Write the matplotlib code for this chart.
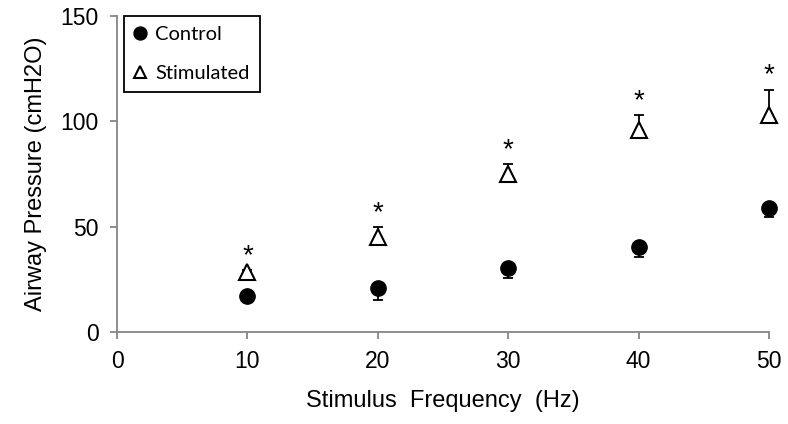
import matplotlib
matplotlib.use("Agg")
import matplotlib.pyplot as plt
import numpy as np

# data
freq = [10, 20, 30, 40, 50]
control = [17.2, 21.0, 30.5, 40.5, 58.7]
control_err = [1.5, 6.0, 4.7, 4.8, 4.0]  # drawn downward only
stim = [28.3, 45.2, 75.0, 95.8, 103.0]
stim_err = [1.0, 4.5, 4.5, 7.0, 12.0]  # drawn upward only
star_labels = ["*", "*", "*", "*", "*"]

plt.rcParams['font.family'] = ['Liberation Sans', 'DejaVu Sans']

fig = plt.figure(figsize=(7.88, 4.24), dpi=100)
ax = fig.add_axes([0.1485, 0.217, 0.8275, 0.7455])

zeros = np.zeros(len(freq))
ax.errorbar(freq, control, yerr=[control_err, zeros], fmt='none', ecolor='black',
            elinewidth=1.3, capsize=3.6, capthick=1.3, zorder=2, clip_on=False)
ax.errorbar(freq, stim, yerr=[zeros, stim_err], fmt='none', ecolor='black',
            elinewidth=1.3, capsize=3.6, capthick=1.3, zorder=2, clip_on=False)

ax.plot(freq, control, linestyle='none', marker='o', markersize=11,
        color='black', label='Control', zorder=3, clip_on=False)
ax.plot(freq, stim, linestyle='none', marker='^', markersize=11,
        markerfacecolor='white', markeredgecolor='black', markeredgewidth=1.5,
        label='Stimulated', zorder=3, clip_on=False)

# significance stars above the stimulated error bars
for x, s, e, lab in zip(freq, stim, stim_err, star_labels):
    ax.annotate(lab, (x, s + e), xytext=(0, 1), textcoords='offset points',
                ha='center', va='bottom', fontsize=20)

ax.set_xlim(0, 50)
ax.set_ylim(0, 150)
ax.set_xticks([0, 10, 20, 30, 40, 50])
ax.set_yticks([0, 50, 100, 150])

for side in ['top', 'right']:
    ax.spines[side].set_visible(False)
for side in ['left', 'bottom']:
    ax.spines[side].set_color('#868686')
    ax.spines[side].set_linewidth(1.3)
ax.tick_params(direction='out', length=5, width=1.3, color='#868686',
               labelsize=16.5, pad=8)

ax.set_xlabel('Stimulus  Frequency  (Hz)', fontsize=17, labelpad=12)
ax.set_ylabel('Airway Pressure (cmH2O)', fontsize=17, labelpad=10)

leg = ax.legend(loc='upper left', bbox_to_anchor=(0.011, 1.0), borderaxespad=0,
                fancybox=False, edgecolor='black', framealpha=1,
                prop={'family': 'Lato', 'size': 14.5}, markerscale=0.85,
                handlelength=0.6, handletextpad=0.45, labelspacing=1.1,
                borderpad=0.5, numpoints=1)
leg.get_frame().set_linewidth(1.3)

fig.savefig('out.png', dpi=100)
